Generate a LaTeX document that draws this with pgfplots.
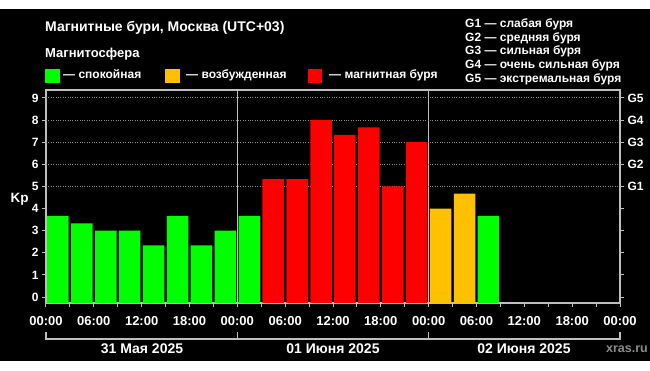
\documentclass[border=0pt]{standalone}
\usepackage{pgfplots}
\pgfplotsset{compat=1.18}
\usepackage{fontspec}
\setmainfont{Liberation Sans}
\definecolor{framec}{RGB}{190,190,190}
\definecolor{gridc}{RGB}{140,140,140}
\definecolor{kpgreen}{RGB}{0,255,0}
\definecolor{kpyellow}{RGB}{255,192,0}
\definecolor{kpred}{RGB}{255,0,0}
\definecolor{xrasc}{RGB}{140,140,140}
\begin{document}
\begin{tikzpicture}[x=1pt,y=1pt]
\path[use as bounding box] (0,0) rectangle (650,371);
\fill[white] (0,0) rectangle (650,371);
\fill[black] (0,10) rectangle (650,362);
\begin{axis}[
  at={(46pt,68pt)}, anchor=south west,
  scale only axis, width=574pt, height=213pt,
  xmin=0, xmax=72, ymin=-0.27, ymax=9.36,
  y coord trafo/.code={\pgfmathparse{#1+0.27}},
  y coord inv trafo/.code={\pgfmathparse{#1-0.27}},
  axis line style={draw=framec, line width=1.1pt},
  tick style={draw=framec, line width=1pt},
  tick align=outside,
  major tick length=4pt, minor tick length=4pt,
  xtick pos=lower, ytick pos=both,
  xtick={0,6,...,72},
  xticklabels={00:00,06:00,12:00,18:00,00:00,06:00,12:00,18:00,00:00,06:00,12:00,18:00,00:00},
  minor xtick={3,9,...,69},
  ytick={0,1,...,9},
  yticklabels={0,1,2,3,4,5,6,7,8,9},
  extra y ticks={5,6,7,8,9},
  extra y tick labels={G1,G2,G3,G4,G5},
  extra y tick style={yticklabel pos=right, ymajorgrids=true, major grid style={gridc, dotted, line width=0.9pt}},
  extra x ticks={24,48},
  extra x tick labels={},
  extra x tick style={xmajorgrids=true, major grid style={framec, line width=1pt}},
  tick label style={text=white, font=\bfseries\fontsize{13}{15}\selectfont},
  xticklabel style={yshift=-6pt},
  yticklabel style={font=\bfseries\fontsize{12}{14}\selectfont},
  ylabel={Kp},
  every axis y label/.style={at={(axis description cs:-0.0679,0.4728)}, anchor=base west, text=white, font=\bfseries\fontsize{13.5}{15}\selectfont},
  ybar, bar width=2.7, bar shift=0pt,
]
\addplot[draw=none, fill=kpgreen] coordinates {(1.5,3.67) (4.5,3.33) (7.5,3) (10.5,3) (13.5,2.33) (16.5,3.67) (19.5,2.33) (22.5,3) (25.5,3.67) (55.5,3.67)};
\addplot[draw=none, fill=kpyellow] coordinates {(49.5,4) (52.5,4.67)};
\addplot[draw=none, fill=kpred] coordinates {(28.5,5.33) (31.5,5.33) (34.5,8) (37.5,7.33) (40.5,7.67) (43.5,5) (46.5,7)};
\end{axis}
% titles and legend
\node[anchor=base west, inner sep=0, text=white, font=\bfseries\fontsize{14}{16}\selectfont] at (45,339.3) {Магнитные бури, Москва (UTC+03)};
\node[anchor=base west, inner sep=0, text=white, font=\bfseries\fontsize{13}{15}\selectfont] at (45,313) {Магнитосфера};
\fill[kpgreen] (45,288) rectangle (60,302);
\node[anchor=base west, inner sep=0, text=white, font=\bfseries\fontsize{12}{14}\selectfont] at (63,292) {— спокойная};
\fill[kpyellow] (165,288) rectangle (180,302);
\node[anchor=base west, inner sep=0, text=white, font=\bfseries\fontsize{12}{14}\selectfont] at (186,292) {— возбужденная};
\fill[kpred] (308,288) rectangle (322,302);
\node[anchor=base west, inner sep=0, text=white, font=\bfseries\fontsize{12}{14}\selectfont] at (329,292) {— магнитная буря};
\foreach \t/\yy in {G1 — слабая буря/343.5, G2 — средняя буря/329.8, G3 — сильная буря/316, G4 — очень сильная буря/302.3, G5 — экстремальная буря/288.5}
  \node[anchor=base west, inner sep=0, text=white, font=\bfseries\fontsize{12}{14}\selectfont] at (465,\yy) {\t};
% day brackets
\draw[framec, line width=1.1pt] (46,38.5) -- (46,32) -- (620,32) -- (620,38.5);
\draw[framec, line width=1.1pt] (237.3,32) -- (237.3,38.5);
\draw[framec, line width=1.1pt] (428.7,32) -- (428.7,38.5);
\node[anchor=base, inner sep=0, text=white, font=\bfseries\fontsize{14}{16}\selectfont] at (142,17.7) {31 Мая 2025};
\node[anchor=base, inner sep=0, text=white, font=\bfseries\fontsize{14}{16}\selectfont] at (333,17.7) {01 Июня 2025};
\node[anchor=base, inner sep=0, text=white, font=\bfseries\fontsize{14}{16}\selectfont] at (524,17.7) {02 Июня 2025};
\node[anchor=base east, inner sep=0, text=xrasc, font=\bfseries\fontsize{12.5}{14}\selectfont] at (648,18) {xras.ru};
\end{tikzpicture}
\end{document}
